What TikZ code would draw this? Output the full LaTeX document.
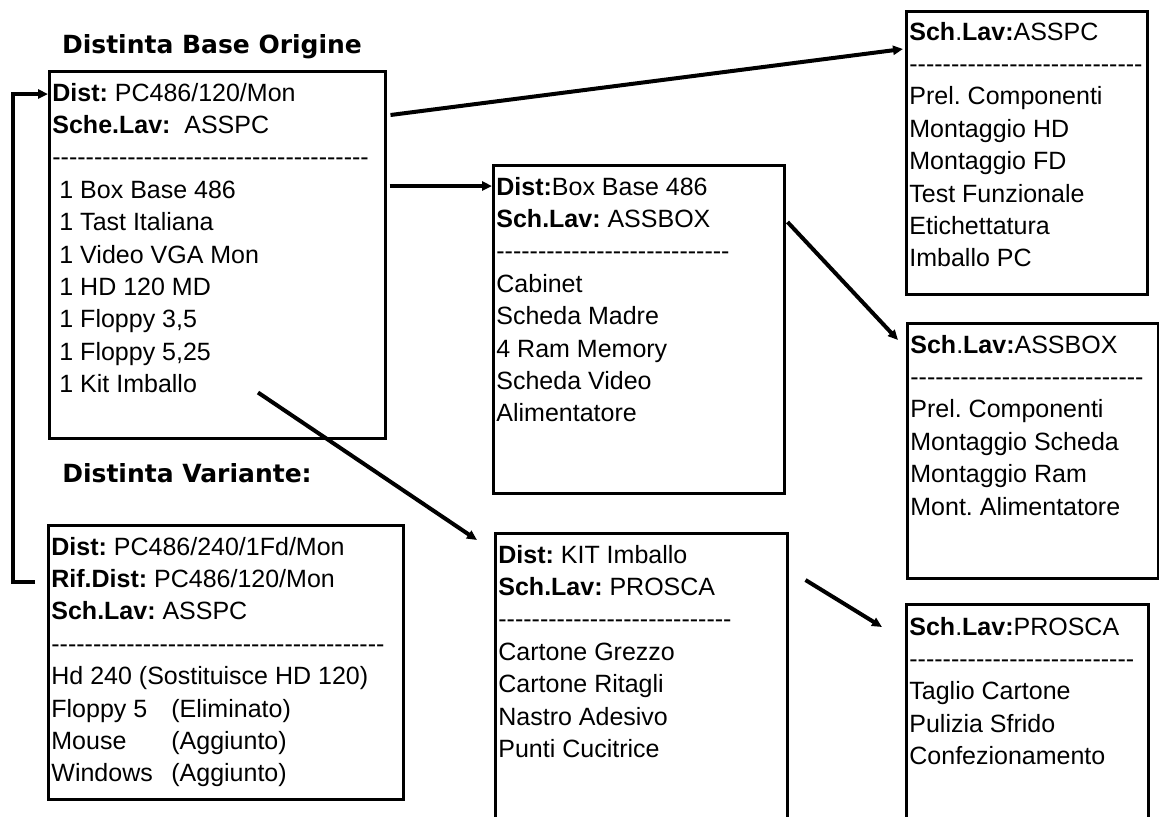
\documentclass[tikz,border=0pt]{standalone}
\usepackage{fontspec}
\setmainfont{Liberation Sans}
\newfontfamily\titlefont{DejaVu Sans}
\usetikzlibrary{arrows.meta,positioning}
\newcommand{\dashrow}[1]{\foreach \k in {1,...,#1}{-\kern0pt}}
\newcommand{\ind}{\hspace*{3.5pt}}
\newcommand{\lab}[1]{\textbf{#1}}
\frenchspacing

\begin{document}
\begin{tikzpicture}[x=0.5pt, y=-0.5pt,
    box/.style={draw, line width=1.25pt, anchor=north west, inner sep=0pt},
    txt/.style={anchor=north west, inner sep=0pt, align=left,
        font=\fontsize{12.5pt}{16.2pt}\selectfont},
    heading/.style={font=\titlefont\bfseries\fontsize{12.5pt}{15pt}\selectfont},
    arr/.style={line width=2pt, -{Triangle[length=5pt,width=4.5pt]}}]
\useasboundingbox (0,0) rectangle (1159,816);

% Titles
\node[heading] (ttlorig) at (212,47) {Distinta Base Origine};
\node[heading] (ttlvar) at (187,473) {Distinta Variante:};

% Distinta base origine
\node[box, minimum width=168pt, minimum height=183.5pt] (orig) at (48,70) {};
\node[txt] (origtxt) at ([shift={(4,8)}]orig.north west)
    {\strut\lab{Dist:} PC486/120/Mon\\
     \lab{Sche.Lav:}\ \ ASSPC\\
     \dashrow{38}\\
     \ind 1 Box Base 486\\
     \ind 1 Tast Italiana\\
     \ind 1 Video VGA Mon\\
     \ind 1 HD 120 MD\\
     \ind 1 Floppy 3,5\\
     \ind 1 Floppy 5,25\\
     \ind 1 Kit Imballo};

% Distinta variante
\node[box, minimum width=177.5pt, minimum height=137pt] (var) at (47,524) {};
\node[txt] (vartxt) at ([shift={(4,8)}]var.north west)
    {\strut\lab{Dist:} PC486/240/1Fd/Mon\\
     \lab{Rif.Dist:} PC486/120/Mon\\
     \lab{Sch.Lav:} ASSPC\\
     \dashrow{40}\\
     Hd 240 (Sostituisce HD 120)\\
     \makebox[60pt][l]{Floppy 5}(Eliminato)\\
     \makebox[60pt][l]{Mouse}(Aggiunto)\\
     \makebox[60pt][l]{Windows}(Aggiunto)};

% Sottodistinte
\node[box, minimum width=145.5pt, minimum height=164pt] (boxbase) at (492,164) {};
\node[txt] (boxbasetxt) at ([shift={(4,8)}]boxbase.north west)
    {\strut\lab{Dist:}Box Base 486\\
     \lab{Sch.Lav:} ASSBOX\\
     \dashrow{28}\\
     Cabinet\\
     Scheda Madre\\
     4 Ram Memory\\
     Scheda Video\\
     Alimentatore};

\node[box, minimum width=146pt, minimum height=150pt] (kit) at (494,532) {};
\node[txt] (kittxt) at ([shift={(4,8)}]kit.north west)
    {\strut\lab{Dist:} KIT Imballo\\
     \lab{Sch.Lav:} PROSCA\\
     \dashrow{28}\\
     Cartone Grezzo\\
     Cartone Ritagli\\
     Nastro Adesivo\\
     Punti Cucitrice};

% Schede di lavorazione
\node[box, minimum width=120.5pt, minimum height=141.5pt] (asspc) at (905,10) {};
\node[txt] (asspctxt) at ([shift={(4,7)}]asspc.north west)
    {\strut\lab{Sch}.\lab{Lav:}ASSPC\\
     \dashrow{28}\\
     Prel. Componenti\\
     Montaggio HD\\
     Montaggio FD\\
     Test Funzionale\\
     Etichettatura\\
     Imballo PC};

\node[box, minimum width=125.5pt, minimum height=127.5pt] (assbox) at (906,322) {};
\node[txt] (assboxtxt) at ([shift={(4,8)}]assbox.north west)
    {\strut\lab{Sch}.\lab{Lav:}ASSBOX\\
     \dashrow{28}\\
     Prel. Componenti\\
     Montaggio Scheda\\
     Montaggio Ram\\
     Mont. Alimentatore};

\node[box, minimum width=121pt, minimum height=115pt] (prosca) at (905,603) {};
\node[txt] (proscatxt) at ([shift={(4,9)}]prosca.north west)
    {\strut\lab{Sch}.\lab{Lav:}PROSCA\\
     \dashrow{27}\\
     Taglio Cartone\\
     Pulizia Sfrido\\
     Confezionamento};

% Arrows
\draw[arr] ([shift={(4,45)}]orig.north east) -- ([shift={(-2,39)}]asspc.north west);
\draw[arr] ([shift={(3,116)}]orig.north east) -- ([shift={(0,22)}]boxbase.north west);
\draw[arr] ([shift={(210,-47)}]orig.south west) -- ([shift={(-17,8)}]kit.north west);
\draw[arr] ([shift={(2,58)}]boxbase.north east) -- ([shift={(-8,18)}]assbox.north west);
\draw[arr] ([shift={(17,48)}]kit.north east) -- ([shift={(-23,24)}]prosca.north west);
% Variante -> origine
\draw[arr] ([shift={(-12,58)}]var.north west) -- ++(-22,0) |- ([shift={(0,24)}]orig.north west);
\end{tikzpicture}
\end{document}
